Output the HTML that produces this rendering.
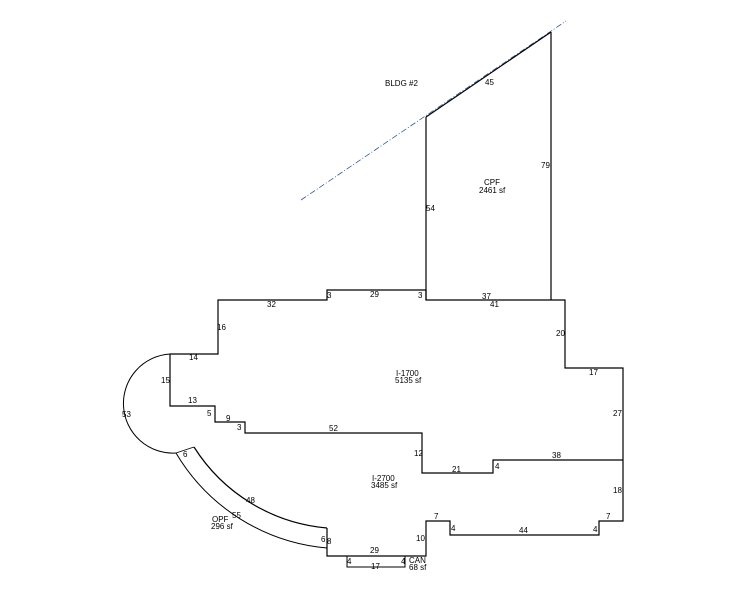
<!DOCTYPE html>
<html><head><style>
html,body{margin:0;padding:0;background:#fff;width:746px;height:595px;overflow:hidden}
svg text{font-family:"Liberation Sans",Arial,sans-serif;font-size:8px;fill:#000}
</style></head><body>
<svg width="746" height="595" viewBox="0 0 746 595" xmlns="http://www.w3.org/2000/svg">
<g fill="none" stroke="#000" stroke-width="1.2">
<!-- dash-dot extension line -->
<line x1="301" y1="200" x2="566" y2="21" stroke="#3a5a9a" stroke-width="0.8" stroke-dasharray="6,2,1,2"/>
<line x1="426" y1="117" x2="551" y2="32" stroke="#000"/>
<!-- CPF -->
<line x1="426" y1="117" x2="426" y2="300"/>
<line x1="551" y1="32" x2="551" y2="300"/>
<!-- main outline -->
<polyline points="170,354 218,354 218,300 327,300 327,290 426,290 426,300 565,300 565,368 623,368 623,521 599,521 599,535 450,535 450,521 426,521 426,556 327,556 327,528"/>
<polyline points="170,354 170,406 215,406 215,422 245,422 245,433 422,433 422,473 493,473 493,460 623,460"/>
<!-- circle -->
<path d="M170,354 A49.5,49.5 0 0 0 176,453" stroke-width="1"/>
<!-- OPF band -->
<path d="M194,447 A175,175 0 0 0 327,528"/>
<path d="M176,453 A195,195 0 0 0 327,548" stroke-width="1"/>
<line x1="176" y1="453" x2="194" y2="447" stroke-width="0.8"/>
<!-- CAN -->
<polyline points="347,556 347,567 405,567 405,556" stroke-width="1"/>
</g>
<text x="385" y="86">BLDG #2</text>
<text x="485" y="85">45</text>
<text x="541" y="168">79</text>
<text x="426" y="211">54</text>
<text x="484" y="185">CPF</text>
<text x="479" y="193">2461 sf</text>
<text x="482" y="299">37</text>
<text x="490" y="307">41</text>
<text x="556" y="336">20</text>
<text x="589" y="375">17</text>
<text x="613" y="416">27</text>
<text x="613" y="493">18</text>
<text x="606" y="519">7</text>
<text x="593" y="532">4</text>
<text x="519" y="533">44</text>
<text x="451" y="531">4</text>
<text x="434" y="519">7</text>
<text x="416" y="541">10</text>
<text x="552" y="458">38</text>
<text x="495" y="469">4</text>
<text x="452" y="472">21</text>
<text x="414" y="456">12</text>
<text x="329" y="431">52</text>
<text x="237" y="430">3</text>
<text x="226" y="421">9</text>
<text x="207" y="416">5</text>
<text x="188" y="403">13</text>
<text x="161" y="383">15</text>
<text x="189" y="360">14</text>
<text x="122" y="417">53</text>
<text x="217" y="330">16</text>
<text x="267" y="307">32</text>
<text x="327" y="298">3</text>
<text x="370" y="297">29</text>
<text x="418" y="298">3</text>
<text x="396" y="376">I-1700</text>
<text x="395" y="383">5135 sf</text>
<text x="372" y="481">I-2700</text>
<text x="371" y="488">3485 sf</text>
<text x="183" y="457">6</text>
<text x="246" y="503">48</text>
<text x="232" y="518">55</text>
<text x="212" y="522">OPF</text>
<text x="211" y="529">296 sf</text>
<text x="321" y="542">6</text>
<text x="327" y="544">8</text>
<text x="370" y="553">29</text>
<text x="347" y="564">4</text>
<text x="371" y="569">17</text>
<text x="401" y="564">4</text>
<text x="409" y="563">CAN</text>
<text x="409" y="570">68 sf</text>
</svg>
</body></html>
